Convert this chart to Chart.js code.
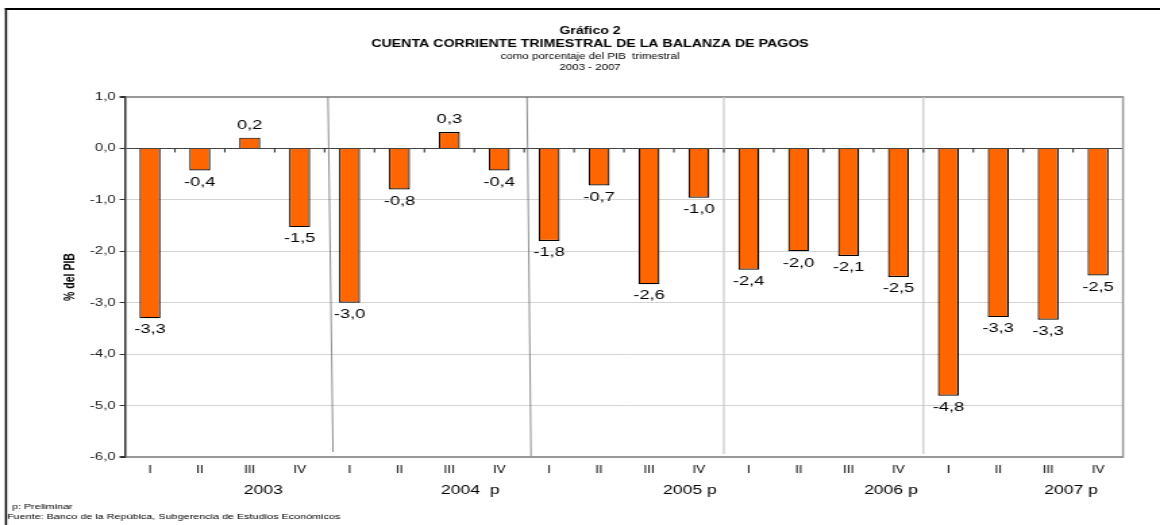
<!DOCTYPE html>
<html>
<head>
<meta charset="utf-8">
<script src="https://cdn.jsdelivr.net/npm/chart.js@4.4.1/dist/chart.umd.min.js"></script>
<style>
  html, body { margin: 0; padding: 0; background: #fff; }
  #chart-cuenta { display: block; }
</style>
</head>
<body>
<canvas id="chart-cuenta" width="859" height="525" style="width:1160px;height:525px"></canvas>
<script>
var quarters = ["I", "II", "III", "IV", "I", "II", "III", "IV", "I", "II", "III", "IV",
	"I", "II", "III", "IV", "I", "II", "III", "IV"]
var years = ["2003", "2004  p", "2005 p", "2006 p", "2007 p"]
var cuenta = [-3.30, -0.43, 0.21, -1.53, -3.00, -0.80, 0.32, -0.43, -1.80, -0.72,
	-2.64, -0.96, -2.36, -2.00, -2.09, -2.50, -4.81, -3.28, -3.33, -2.47]
var yTicks = [1, 0, -1, -2, -3, -4, -5, -6]

// the reference picture is stretched sideways, so the canvas is drawn narrow and widened by css
var S = 1160 / 859
function rx(x) { return x / S }
var FONT = "Arial, 'Liberation Sans', sans-serif"

function coma(v) {
	return v.toFixed(1).replace(".", ",")
}

var decor = {
	id: "decor",
	beforeDraw: function(chart) {
		var ctx = chart.ctx
		ctx.save()
		ctx.fillStyle = "#fff"
		ctx.fillRect(0, 0, chart.width, chart.height)
		// outer frame (top and left only)
		ctx.strokeStyle = "#000"
		ctx.lineWidth = 2
		ctx.beginPath()
		ctx.moveTo(rx(5), 9)
		ctx.lineTo(chart.width, 9)
		ctx.stroke()
		ctx.lineWidth = 2 / S
		ctx.beginPath()
		ctx.moveTo(rx(6), 8)
		ctx.lineTo(rx(6), chart.height)
		ctx.stroke()

		// headings
		ctx.fillStyle = "#000"
		ctx.textAlign = "center"
		ctx.textBaseline = "middle"
		var cx = rx(590)
		ctx.font = "bold 10.5px " + FONT
		ctx.fillText("Gráfico 2", cx, 31)
		ctx.font = "bold 10.5px " + FONT
		ctx.fillText("CUENTA CORRIENTE TRIMESTRAL DE LA BALANZA DE PAGOS", cx, 44)
		ctx.font = "8.5px " + FONT
		ctx.fillText("como porcentaje del PIB  trimestral", cx, 57)
		ctx.fillText("2003 - 2007", cx, 68)

		// footnotes
		ctx.textAlign = "left"
		ctx.font = "8px " + FONT
		ctx.fillText("p: Preliminar", rx(12), 507)
		ctx.fillText("Fuente: Banco de la Repúblca, Subgerencia de Estudios Económicos", rx(7), 517)

		// y axis title
		ctx.save()
		ctx.translate(rx(71), 277)
		ctx.rotate(-Math.PI / 2)
		ctx.textAlign = "center"
		ctx.font = "bold 10.5px " + FONT
		ctx.fillText("% del PIB", 0, 0)
		ctx.restore()
		ctx.restore()
	},
	afterDatasetsDraw: function(chart) {
		var ctx = chart.ctx
		var a = chart.chartArea
		var xs = chart.scales.x
		var ys = chart.scales.y
		var y0 = ys.getPixelForValue(0)
		ctx.save()

		// right border of the plot
		ctx.strokeStyle = "#999"
		ctx.lineWidth = 2 / S
		ctx.beginPath()
		ctx.moveTo(a.right, a.top - 1)
		ctx.lineTo(a.right, a.bottom + 1)
		ctx.stroke()

		// year separators: first two are darker and slightly slanted, like the original
		var seps = [
			{ at: 3.5, dt: 3.4, db: 8.4, bot: 452, col: "#666", w: 1 },
			{ at: 7.5, dt: 2.8, db: 6.8, bot: 456, col: "#666", w: 1 },
			{ at: 11.5, dt: 0, db: 0, bot: 454, col: "#c8c8c8", w: 1.6 },
			{ at: 15.5, dt: 0, db: 0, bot: 454, col: "#c8c8c8", w: 1.6 }
		]
		seps.forEach(function(s) {
			var x = xs.getPixelForValue(s.at)
			ctx.strokeStyle = s.col
			ctx.lineWidth = s.w / S
			ctx.beginPath()
			ctx.moveTo(x + rx(s.dt), a.top)
			ctx.lineTo(x + rx(s.db), s.bot)
			ctx.stroke()
		})

		// small ticks hanging off the zero line
		ctx.strokeStyle = "#333"
		ctx.lineWidth = 1.5 / S
		for (var i = 0; i < quarters.length - 1; i++) {
			var tx = xs.getPixelForValue(i + 0.5)
			ctx.beginPath()
			ctx.moveTo(tx, y0)
			ctx.lineTo(tx, y0 + 4)
			ctx.stroke()
		}

		// value labels
		var meta = chart.getDatasetMeta(0)
		ctx.fillStyle = "#000"
		ctx.font = "13.5px " + FONT
		ctx.textAlign = "center"
		ctx.textBaseline = "middle"
		meta.data.forEach(function(bar, i) {
			var v = cuenta[i]
			var ly = v < 0 ? bar.y + 11.5 : bar.y - 12.5
			ctx.fillText(coma(v), bar.x, ly)
		})

		// year labels under the quarters
		var yearAt = [2.27, 6.42, 10.82, 14.85, 18.46]
		ctx.font = "13px " + FONT
		years.forEach(function(t, k) {
			ctx.fillText(t, xs.getPixelForValue(yearAt[k]), 490)
		})
		ctx.restore()
	}
}

var ctxCuenta = document.getElementById("chart-cuenta").getContext("2d")
var chartCuenta = new Chart(ctxCuenta, {
	type: "bar",
	data: {
		labels: quarters,
		datasets: [
			{
				data: cuenta,
				backgroundColor: "#ff6600",
				borderColor: "#000",
				borderWidth: 1.2,
				categoryPercentage: 1,
				barPercentage: 0.42
			}
		]
	},
	plugins: [decor],
	options: {
		responsive: false,
		animation: false,
		devicePixelRatio: 1,
		layout: {
			padding: { left: 0, top: 97, right: 859 - rx(1123), bottom: 28 }
		},
		plugins: {
			legend: { display: false },
			tooltip: { enabled: false }
		},
		scales: {
			x: {
				grid: { display: false, drawTicks: false },
				border: { display: false },
				ticks: {
					color: "#000",
					padding: 7,
					maxRotation: 0,
					autoSkip: false,
					font: { family: FONT, size: 10 }
				},
				afterFit: function(scale) { scale.height = 40 }
			},
			y: {
				min: -6,
				max: 1,
				afterBuildTicks: function(scale) {
					scale.ticks = yTicks.map(function(v) { return { value: v } })
				},
				border: { display: true, color: "#333", width: 1.5 },
				grid: {
					color: function(c) {
						if (c.tick.value === 0) return "#444"
						if (c.tick.value === 1 || c.tick.value === -6) return "#999"
						return "#d4d4d4"
					},
					lineWidth: function(c) {
						if (c.tick.value === 1 || c.tick.value === -6) return 2
						return 1
					},
					tickColor: "#333",
					tickLength: 4
				},
				ticks: {
					color: "#222",
					padding: 3,
					font: { family: FONT, size: 11 },
					callback: function(v) { return coma(v) }
				},
				afterFit: function(scale) { scale.width = rx(125) }
			}
		}
	}
})
</script>
</body>
</html>
